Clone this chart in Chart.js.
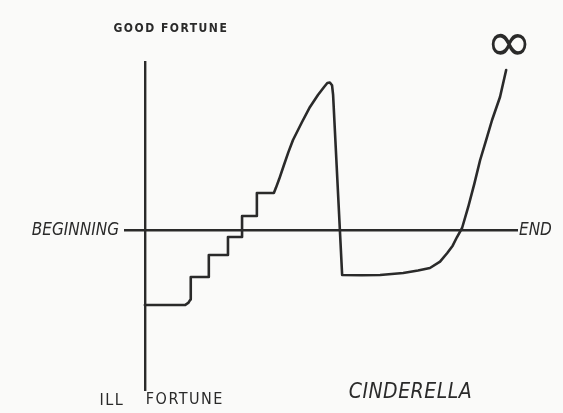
<!DOCTYPE html>
<html>
<head>
<meta charset="utf-8">
<script src="https://cdn.jsdelivr.net/npm/chart.js@4/dist/chart.umd.min.js"></script>
<style>
  html, body { margin: 0; padding: 0; background: #fafaf9; }
  #wrap { width: 563px; height: 413px; }
</style>
</head>
<body>
<div id="wrap"><canvas id="c" width="563" height="413"></canvas></div>
<script>
// Story time (0 = beginning, 100 = end)
const storyTime = [0, 11.1, 12.0, 12.6, 12.7, 17.7, 17.7, 23.0, 23.0, 26.9, 26.9, 31.0, 31.0, 35.7,
  36.3, 37.2, 38.4, 39.7, 41.0, 43.5, 45.7, 47.9, 49.6, 50.5, 51.2, 51.8, 52.1, 54.6,
  60.0, 65.1, 71.5, 75.6, 78.9, 81.7, 83.7, 85.2, 86.4, 87.8, 89.5, 91.2, 92.8, 94.5, 96.1, 98.3, 100];
// Fortune (positive = good fortune, negative = ill fortune)
const fortune = [-46.9, -46.9, -45.6, -43.5, -29.4, -29.4, -15.6, -15.6, -4.4, -4.4, 8.75, 8.75, 23.1, 23.1,
  26.5, 32.0, 40.0, 48.5, 56.25, 67.5, 76.9, 84.4, 89.4, 91.9, 92.2, 90.5, 84.4, -28.1,
  -28.3, -28.1, -26.9, -25.3, -23.75, -19.8, -14.4, -9.8, -4.4, 1.25, 14.4, 29.0, 43.75, 56.5, 68.75, 83.1, 100];
const axisLabels = { top: 'GOOD FORTUNE', bottom: 'ILL FORTUNE', left: 'BEGINNING', right: 'END' };
const storyTitle = 'CINDERELLA';
const endMark = '∞';

const ink = '#2a2a2a';
const hand = '"DejaVu Sans Condensed", "DejaVu Sans", sans-serif';

const labelPlugin = {
  id: 'labels',
  afterDraw(chart) {
    const { ctx, chartArea: a, scales } = chart;
    const x0 = scales.x.getPixelForValue(0);
    const y0 = scales.y.getPixelForValue(0);
    ctx.save();
    ctx.fillStyle = ink;
    ctx.textBaseline = 'middle';
    ctx.textAlign = 'center';
    // GOOD FORTUNE above y axis
    ctx.font = 'bold 12px ' + hand;
    ctx.letterSpacing = '1.5px';
    ctx.fillText(axisLabels.top, x0 + 26, a.top - 33);
    // ILL FORTUNE below
    ctx.font = '16px ' + hand;
    ctx.letterSpacing = '1.5px';
    ctx.fillText('ILL', x0 - 33, a.bottom + 11);
    ctx.fillText('FORTUNE', x0 + 40, a.bottom + 10);
    // BEGINNING left of x axis
    ctx.font = 'italic 17px ' + hand;
    ctx.letterSpacing = '0px';
    ctx.textAlign = 'right';
    ctx.fillText(axisLabels.left, a.left - 6, y0 + 1);
    ctx.textAlign = 'left';
    ctx.fillText(axisLabels.right, a.right + 2, y0 + 1);
    // Title
    ctx.font = 'italic 21px ' + hand;
    ctx.letterSpacing = '0.5px';
    ctx.textAlign = 'center';
    ctx.fillText(storyTitle, scales.x.getPixelForValue(73.5), a.bottom + 3);
    // infinity above last point
    const meta = chart.getDatasetMeta(0);
    const last = meta.data[meta.data.length - 1];
    ctx.letterSpacing = '0px';
    ctx.font = 'italic 56px "DejaVu Sans", sans-serif';
    ctx.fillText(endMark, last.x + 3, last.y - 24);
    ctx.restore();
  }
};

new Chart(document.getElementById('c'), {
  type: 'line',
  data: {
    datasets: [{
      data: storyTime.map((t, i) => ({ x: t, y: fortune[i] })),
      borderColor: ink,
      borderWidth: 2.6,
      pointRadius: 0,
      tension: 0,
      fill: false,
      borderCapStyle: 'round',
      borderJoinStyle: 'round'
    }]
  },
  options: {
    responsive: false,
    animation: false,
    layout: { padding: { left: 125, right: 46, top: 62, bottom: 23 } },
    plugins: { legend: { display: false }, tooltip: { enabled: false } },
    scales: {
      x: {
        type: 'linear', min: -5.5, max: 103,
        position: { y: 0 },
        grid: { display: false, drawTicks: false },
        ticks: { display: false },
        border: { color: ink, width: 2.4 }
      },
      y: {
        type: 'linear', min: -100, max: 105,
        position: { x: 0 },
        grid: { display: false, drawTicks: false },
        ticks: { display: false },
        border: { color: ink, width: 2.4 }
      }
    }
  },
  plugins: [labelPlugin]
});
</script>
</body>
</html>
